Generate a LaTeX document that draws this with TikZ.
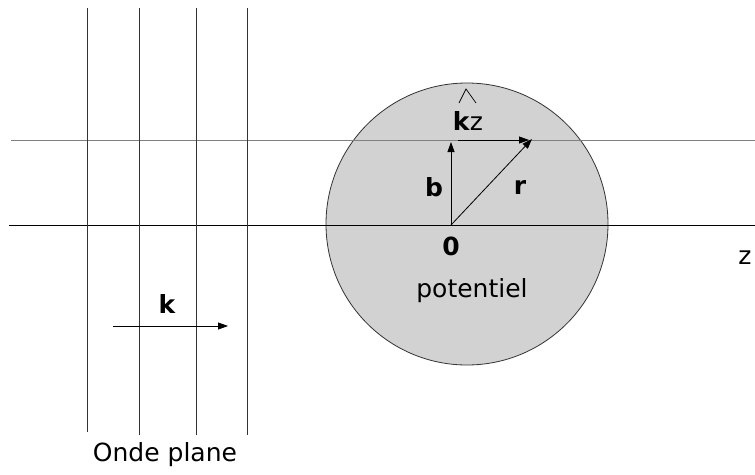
\documentclass[tikz,border=0pt]{standalone}
\usepackage{fontspec}
\setmainfont{DejaVu Sans}
\usetikzlibrary{arrows.meta,positioning}

\begin{document}
\begin{tikzpicture}[x=1pt, y=-1pt,
    lbl/.style={inner sep=0pt, font=\fontsize{25}{30}\selectfont},
    blbl/.style={inner sep=0pt, font=\fontsize{25}{30}\selectfont\bfseries},
    arr/.style={-{Triangle[length=10pt,width=7pt]}, line width=0.8pt},
    plan/.style={draw=black!80, line width=1pt},
    axe/.style={draw=black, line width=1pt}
]
\useasboundingbox (0,0) rectangle (755,474);

%% POTENTIEL
\node[draw=black!80, fill=gray!35, circle, minimum size=282pt, inner sep=0pt,
      line width=0.8pt] (pot) at (467,224) {};

%% AXES
\coordinate (axg) at (9,225);
\coordinate (axd) at (755,225);
\draw[axe] (axg) -- (axd);
\coordinate (hg) at (11,140);
\coordinate (hd) at (755,140);
\draw[draw=gray, line width=0.8pt] (hg) -- (hd);

%% ONDE PLANE
\foreach \x/\yb in {87/432, 139/435, 196/435, 247/435}
    \draw[plan] (\x,8) -- (\x,\yb);

%% VECTEURS
\coordinate (O) at (451,225);
\coordinate (btip) at (451,142);
\coordinate (rtip) at (532,139);
\coordinate (kzg) at (458,140);
\coordinate (kzd) at (529,140);
\draw[arr] (O) -- (btip);
\draw[arr] (O) -- (rtip);
\draw[arr] (kzg) -- (kzd);

\coordinate (kg) at (113,326);
\coordinate (kd) at (228,326);
\draw[arr] (kg) -- (kd);

%% TEXTES
\node[blbl] (zero) at (451,246) {0};
\node[blbl] (b) at (434,187) {b};
\node[blbl] (r) at (520,187) {r};
\node[lbl] (kz) at (468,121) {\textbf{k}z};
\draw[line width=0.7pt] (459,103) -- (466,89) -- (476,103);
\node[lbl] (potl) at (472,291) {potentiel};
\node[blbl] (k) at (167,304) {k};
\node[lbl] (z) at (745,258) {z};
\node[lbl] (onde) at (165,455) {Onde plane};

\end{tikzpicture}
\end{document}
